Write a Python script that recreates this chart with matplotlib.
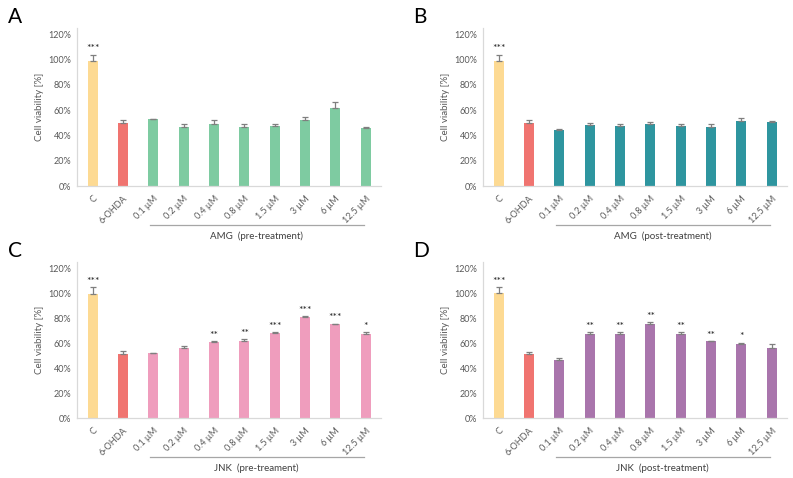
import matplotlib
matplotlib.use("Agg")
import matplotlib.pyplot as plt
import matplotlib.transforms as mtransforms

plt.rcParams['font.family'] = ['Lato', 'DejaVu Sans']

categories = ["C", "6-OHDA", "0.1 µM", "0.2 µM", "0.4 µM", "0.8 µM", "1.5 µM", "3 µM", "6 µM", "12.5 µM"]

amg_pre = [99, 50, 52.8, 47, 48.8, 47, 47.8, 52, 62, 46]
amg_pre_err = [5, 2, 0.3, 2.3, 3.2, 2.3, 1.0, 2.4, 4.5, 1.0]
amg_pre_sig = ["***", "", "", "", "", "", "", "", "", ""]

amg_post = [99, 50, 44, 48.5, 47.8, 49, 47.8, 47, 51.5, 50.7]
amg_post_err = [5, 2, 1.0, 1.5, 1.5, 1.7, 1.0, 1.8, 2.3, 0.8]
amg_post_sig = ["***", "", "", "", "", "", "", "", "", ""]

jnk_pre = [99.7, 51, 51.7, 55.7, 61, 62, 68.5, 80.8, 75, 67.2]
jnk_pre_err = [5, 2.3, 0.6, 1.9, 0.3, 1.5, 0.5, 1.1, 0.7, 1.6]
jnk_pre_sig = ["***", "", "", "", "**", "**", "***", "***", "***", "*"]

jnk_post = [100, 51, 46.4, 67, 67, 75, 67.5, 61.3, 59, 55.7]
jnk_post_err = [5, 2, 1.3, 1.8, 1.8, 1.8, 1.3, 0.6, 1.3, 3.3]
jnk_post_sig = ["***", "", "", "**", "**", "**", "**", "**", "*", ""]

yticks = [0, 20, 40, 60, 80, 100, 120]

col_c = "#FDDA93"
col_ohda = "#F07470"

panels = [
    ("A", amg_pre, amg_pre_err, amg_pre_sig, "#7ECBA1", "AMG  (pre-treatment)", [77, 28, 381, 186], 8),
    ("B", amg_post, amg_post_err, amg_post_sig, "#2E959F", "AMG  (post-treatment)", [483, 28, 787, 186], 413),
    ("C", jnk_pre, jnk_pre_err, jnk_pre_sig, "#EF9DBD", "JNK  (pre-treament)", [77, 262, 381, 418], 8),
    ("D", jnk_post, jnk_post_err, jnk_post_sig, "#A975AC", "JNK  (post-treatment)", [483, 262, 787, 418], 413),
]

W, H = 793, 478
fig = plt.figure(figsize=(W / 100, H / 100), dpi=100)
gray = "#595959"

for letter, vals, errs, sigs, col, grp, (x0, y0, x1, y1), lx in panels:
    ax = fig.add_axes([x0 / W, 1 - y1 / H, (x1 - x0) / W, (y1 - y0) / H])
    xs = list(range(len(categories)))
    colors = [col_c, col_ohda] + [col] * (len(categories) - 2)
    ax.bar(xs, vals, width=0.33, color=colors, zorder=2)
    ax.errorbar(xs, vals, yerr=[[0] * len(errs), errs], fmt='none', ecolor="#7f7f7f",
                elinewidth=0.9, capsize=2.5, capthick=0.9, zorder=3)
    for x, v, e, s in zip(xs, vals, errs, sigs):
        if s:
            ax.text(x, v + e + 1.0, s, ha='center', va='bottom', fontsize=7.5,
                    color="#262626")
    ax.set_xlim(-0.52, 9.5)
    ax.set_ylim(0, 125)
    ax.set_yticks(yticks)
    ax.set_yticklabels([f"{t}%" for t in yticks], fontsize=6.5, color=gray)
    ax.set_xticks(xs)
    ax.set_xticklabels(categories, rotation=45, ha='right', va='top',
                       rotation_mode='anchor', fontsize=6.5, color=gray)
    ax.tick_params(axis='both', length=0, pad=4)
    ax.tick_params(axis='x', pad=6)
    for sp in ['top', 'right']:
        ax.spines[sp].set_visible(False)
    for sp in ['left', 'bottom']:
        ax.spines[sp].set_color("#d9d9d9")
        ax.spines[sp].set_linewidth(0.9)
    ax.set_ylabel("Cell viability [%]", fontsize=7, color=gray, labelpad=3)
    trans = mtransforms.blended_transform_factory(ax.transData, ax.transAxes)
    h = y1 - y0
    ax.plot([1.88, 8.95], [-39 / h, -39 / h], transform=trans, color="#a6a6a6",
            lw=0.9, clip_on=False)
    ax.text(5.4, -50 / h, grp, transform=trans, ha='center', va='center',
            fontsize=7, color="#404040")
    fig.text(lx / W, 1 - (y0 - 11) / H, letter, fontsize=15, ha='left', va='center',
             color="black")

fig.savefig("out.png", dpi=100)
